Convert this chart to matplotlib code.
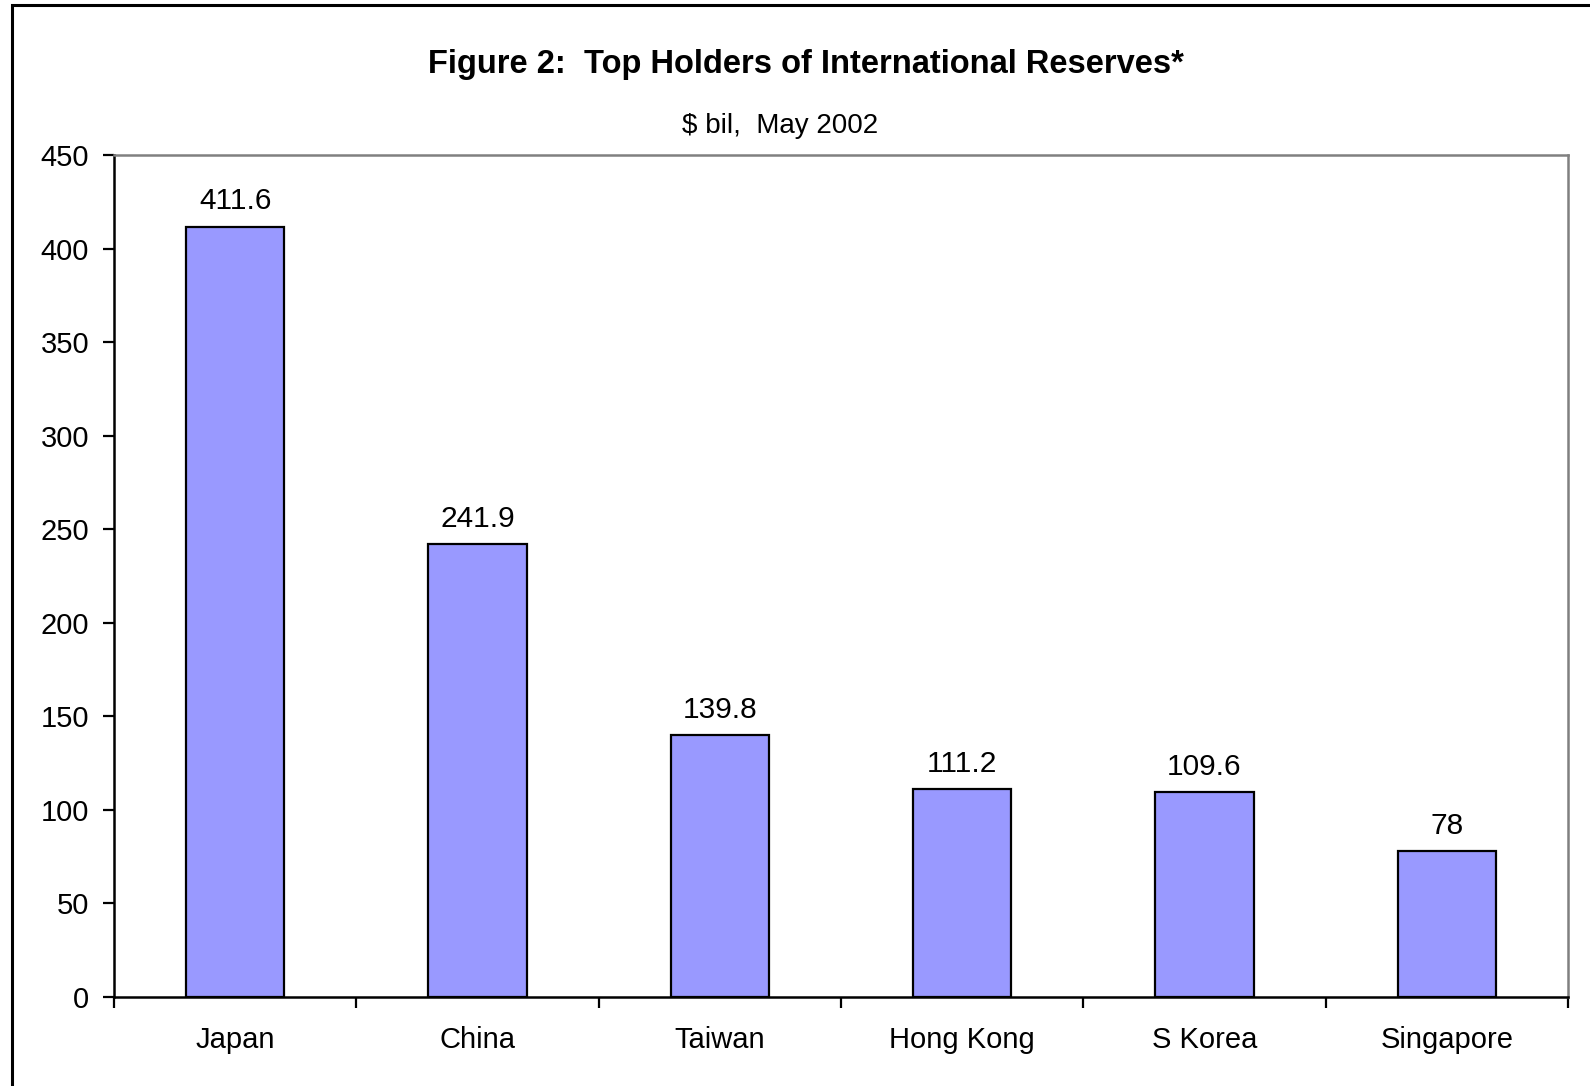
import matplotlib
matplotlib.use("Agg")
import matplotlib.pyplot as plt
from matplotlib.patches import Rectangle

countries = ["Japan", "China", "Taiwan", "Hong Kong", "S Korea", "Singapore"]
reserves = [411.6, 241.9, 139.8, 111.2, 109.6, 78]
labels = ["411.6", "241.9", "139.8", "111.2", "109.6", "78"]
yticks = [0, 50, 100, 150, 200, 250, 300, 350, 400, 450]

plt.rcParams['font.family'] = ['Liberation Sans', 'DejaVu Sans']

W, H = 1590, 1086
fig = plt.figure(figsize=(W / 100, H / 100), dpi=100)

# outer frame (cut off at right and bottom)
fig.patches.append(Rectangle((12 / W, -0.05), 1.2, 1 - 5 / H + 0.05,
                             transform=fig.transFigure, fill=False,
                             edgecolor="black", linewidth=2.2))

ax = fig.add_axes([114 / W, 1 - 997 / H, (1568 - 114) / W, (997 - 155) / H])

x = list(range(len(countries)))
ax.bar(x, reserves, width=0.405, color="#9999ff", edgecolor="black", linewidth=1.6, zorder=2)

for xi, v, lab in zip(x, reserves, labels):
    ax.annotate(lab, (xi, v), xytext=(0, 12.5), textcoords="offset points",
                ha="center", va="baseline", fontsize=21.5)

ax.set_xlim(-0.5, len(countries) - 0.5)
ax.set_ylim(0, 450)
ax.set_yticks(yticks)
ax.tick_params(axis="y", direction="out", length=8, width=1.6, labelsize=21, pad=10)

# category ticks between bars
ax.set_xticks([i - 0.5 for i in range(len(countries) + 1)])
ax.set_xticklabels([])
ax.set_xticks(x, minor=True)
ax.set_xticklabels(countries, minor=True, fontsize=21)
ax.tick_params(axis="x", which="major", direction="out", length=8, width=1.6)
ax.tick_params(axis="x", which="minor", length=0, pad=21)

for s in ["left", "bottom"]:
    ax.spines[s].set_color("black")
    ax.spines[s].set_linewidth(1.8)
for s in ["top", "right"]:
    ax.spines[s].set_color("#808080")
    ax.spines[s].set_linewidth(1.8)

fig.text(806 / W, 1 - 64 / H, "Figure 2:  Top Holders of International Reserves*",
         ha="center", va="center", fontsize=23.5, fontweight="bold")
fig.text(780 / W, 1 - 126 / H, "$ bil,  May 2002", ha="center", va="center", fontsize=20)

fig.savefig("out.png", dpi=100, facecolor="white")
